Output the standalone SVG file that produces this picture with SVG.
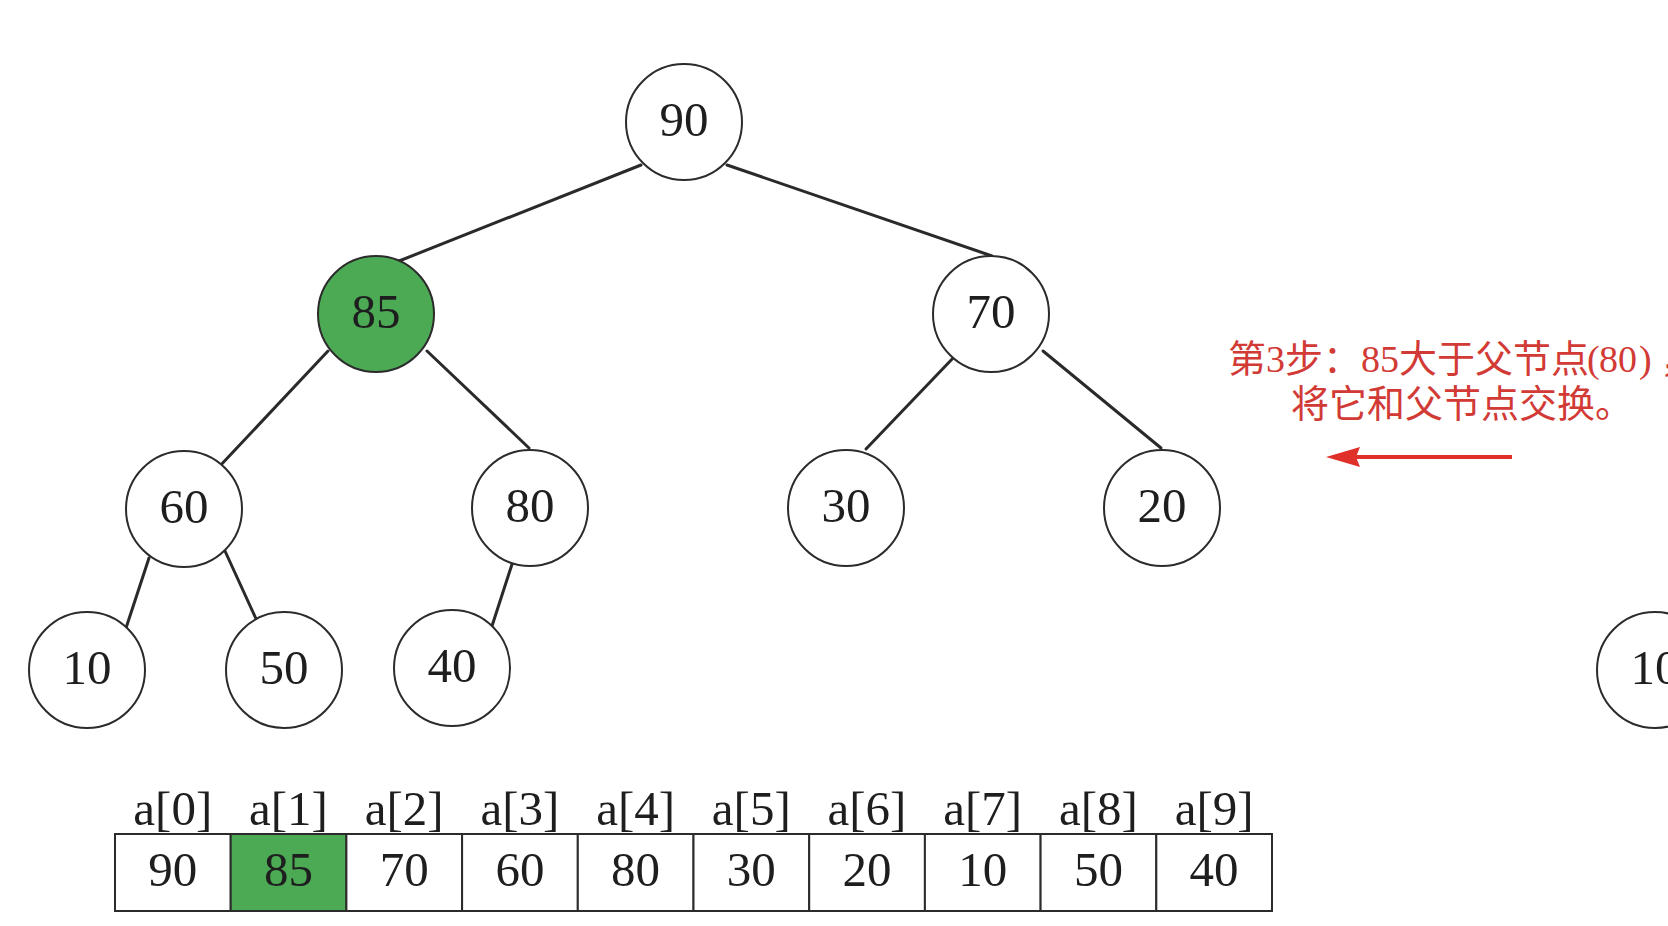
<svg xmlns="http://www.w3.org/2000/svg" width="1668" height="926" viewBox="0 0 1668 926">
  <style>
    .node circle { fill: #ffffff; stroke: #2b2b2b; stroke-width: 2; }
    .node.hl circle { fill: #4caa55; }
    .node text, .cell text { font-family: "Liberation Serif", "DejaVu Serif", serif; font-size: 49px; fill: #1e1e1e; text-anchor: middle; }
    .edges line { stroke: #2a2a2a; stroke-width: 3; stroke-linecap: round; }
    .cell rect { fill: #ffffff; stroke: #2b2b2b; stroke-width: 2; }
    .cell.hl rect { fill: #4caa55; }
    .idx { font-family: "Liberation Serif", "DejaVu Serif", serif; font-size: 35px; fill: #5f5f5f; text-anchor: middle; }
    .note { font-family: "Liberation Serif", "Noto Sans CJK SC", serif; font-size: 38px; fill: #d23a36; }
  </style>
  <rect width="1668" height="926" fill="#ffffff"/>

  <!-- tree edges -->
  <g id="edges" class="edges">
    <line x1="641" y1="165" x2="394" y2="263"/>
    <line x1="727" y1="165" x2="992" y2="256"/>
    <line x1="328" y1="351" x2="218" y2="468"/>
    <line x1="427" y1="351" x2="529" y2="448"/>
    <line x1="955" y1="356" x2="866" y2="449"/>
    <line x1="1043" y1="351" x2="1161" y2="448"/>
    <line x1="149" y1="558" x2="126" y2="628"/>
    <line x1="225" y1="551" x2="257" y2="621"/>
    <line x1="515" y1="555" x2="492" y2="626"/>
  </g>

  <!-- heap nodes -->
  <g id="n90" class="node"><circle cx="684" cy="122" r="58"/><text x="684" y="136">90</text></g>
  <g id="n85" class="node hl"><circle cx="376" cy="314" r="58"/><text x="376" y="328">85</text></g>
  <g id="n70" class="node"><circle cx="991" cy="314" r="58"/><text x="991" y="328">70</text></g>
  <g id="n60" class="node"><circle cx="184" cy="509" r="58"/><text x="184" y="523">60</text></g>
  <g id="n80" class="node"><circle cx="530" cy="508" r="58"/><text x="530" y="522">80</text></g>
  <g id="n30" class="node"><circle cx="846" cy="508" r="58"/><text x="846" y="522">30</text></g>
  <g id="n20" class="node"><circle cx="1162" cy="508" r="58"/><text x="1162" y="522">20</text></g>
  <g id="n10" class="node"><circle cx="87" cy="670" r="58"/><text x="87" y="684">10</text></g>
  <g id="n50" class="node"><circle cx="284" cy="670" r="58"/><text x="284" y="684">50</text></g>
  <g id="n40" class="node"><circle cx="452" cy="668" r="58"/><text x="452" y="682">40</text></g>
  <g id="n10b" class="node"><circle cx="1655" cy="670" r="58"/><text x="1655" y="684">10</text></g>

  <!-- annotation: step 3 -->
  <g id="note">
    <text class="note" x="1228 1266 1285 1323 1361 1380 1399 1437 1475 1513 1551 1587 1599 1618 1639 1660" y="372">第3步：85大于父节点(80)，</text>
    <text class="note" x="1291" y="417">将它和父节点交换。</text>
    <line x1="1512" y1="457" x2="1352" y2="457" stroke="#e0302a" stroke-width="4"/>
    <polygon points="1326,457 1360,447 1356,457 1360,467" fill="#e0302a"/>
  </g>

  <!-- array view -->
  <g id="array">
    <g class="cell"><rect x="115" y="834" width="115.7" height="77"/><text x="172.8" y="886">90</text><text class="idx" x="172.8" y="825">a[0]</text></g>
    <g class="cell hl"><rect x="230.7" y="834" width="115.7" height="77"/><text x="288.5" y="886">85</text><text class="idx" x="288.5" y="825">a[1]</text></g>
    <g class="cell"><rect x="346.4" y="834" width="115.7" height="77"/><text x="404.2" y="886">70</text><text class="idx" x="404.2" y="825">a[2]</text></g>
    <g class="cell"><rect x="462.1" y="834" width="115.7" height="77"/><text x="519.9" y="886">60</text><text class="idx" x="519.9" y="825">a[3]</text></g>
    <g class="cell"><rect x="577.8" y="834" width="115.7" height="77"/><text x="635.6" y="886">80</text><text class="idx" x="635.6" y="825">a[4]</text></g>
    <g class="cell"><rect x="693.5" y="834" width="115.7" height="77"/><text x="751.3" y="886">30</text><text class="idx" x="751.3" y="825">a[5]</text></g>
    <g class="cell"><rect x="809.2" y="834" width="115.7" height="77"/><text x="867" y="886">20</text><text class="idx" x="867" y="825">a[6]</text></g>
    <g class="cell"><rect x="924.9" y="834" width="115.7" height="77"/><text x="982.7" y="886">10</text><text class="idx" x="982.7" y="825">a[7]</text></g>
    <g class="cell"><rect x="1040.6" y="834" width="115.7" height="77"/><text x="1098.4" y="886">50</text><text class="idx" x="1098.4" y="825">a[8]</text></g>
    <g class="cell"><rect x="1156.3" y="834" width="115.7" height="77"/><text x="1214.1" y="886">40</text><text class="idx" x="1214.1" y="825">a[9]</text></g>
  </g>
</svg>
